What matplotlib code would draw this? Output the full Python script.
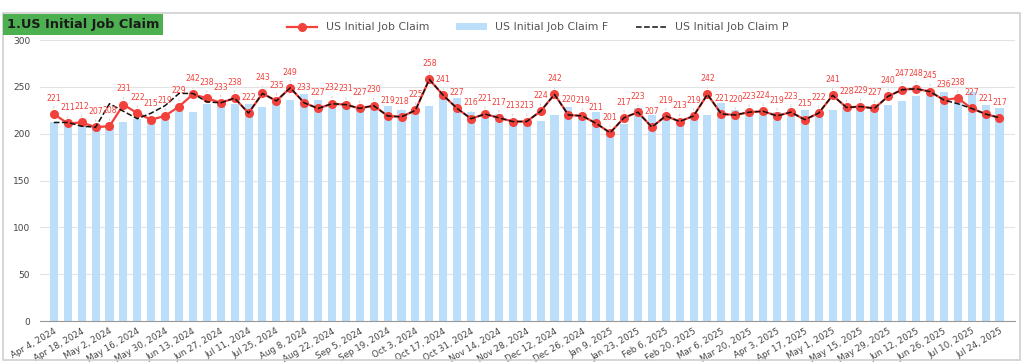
import matplotlib.pyplot as plt
import matplotlib.patches as patches
import numpy as np
import pandas as pd

# weekly release dates (categories)
dates = pd.date_range("2024-04-04", periods=69, freq="7D")

# US Initial Job Claim (actual, thousands)
claims = [221, 211, 212, 207, 208, 231, 222, 215, 219, 229,
          242, 238, 233, 238, 222, 243, 235, 249, 233, 227,
          232, 231, 227, 230, 219, 218, 225, 258, 241, 227,
          216, 221, 217, 213, 213, 224, 242, 220, 219, 211,
          201, 217, 223, 207, 219, 213, 219, 242, 221, 220,
          223, 224, 219, 223, 215, 222, 241, 228, 229, 227,
          240, 247, 248, 245, 236, 238, 227, 221, 217]

# forecast (bars)
forecast = [213, 212, 208, 207, 205, 212, 216, 213, 220, 224,
            223, 232, 232, 232, 232, 229, 234, 236, 242, 236,
            234, 234, 229, 231, 230, 225, 223, 230, 243, 238,
            223, 222, 221, 216, 211, 214, 220, 229, 220, 223,
            202, 210, 227, 220, 218, 213, 218, 220, 233, 225,
            225, 224, 223, 225, 225, 223, 225, 228, 228, 227,
            231, 235, 240, 245, 244, 238, 245, 231, 227]

# previous (dashed)
previous = [212, 212, 208, 207, 232, 224, 216, 222, 230, 243,
            243, 234, 233, 238, 222, 243, 235, 249, 233, 227,
            232, 231, 227, 230, 219, 218, 225, 258, 241, 227,
            216, 221, 217, 213, 213, 224, 242, 220, 219, 211,
            201, 217, 223, 207, 219, 213, 219, 242, 221, 220,
            223, 224, 219, 223, 215, 222, 241, 228, 229, 227,
            240, 247, 248, 245, 236, 232, 227, 221, 217]

tick_labels = [f"{d.strftime('%b')} {d.day}, {d.year}" for d in dates]

red = "#F2403A"
x = np.arange(len(dates))

fig = plt.figure(figsize=(10.24, 3.64), dpi=100)
ax = fig.add_axes([0.039, 0.118, 0.952, 0.772])

ax.bar(x, forecast, width=0.58, color="#BBDEFB", label="US Initial Job Claim F", zorder=2)
ax.plot(x, claims, "-o", color=red, lw=1.6, markersize=5.5, label="US Initial Job Claim", zorder=3)
ax.plot(x, previous, "--", color="#111111", lw=1.1, label="US Initial Job Claim P", zorder=4)

for xi, v in zip(x, claims):
    ax.annotate("", xy=(xi, v + 3), xytext=(xi, v + 11),
                arrowprops=dict(arrowstyle="-", color="#cccccc", lw=0.6), zorder=1)
    ax.text(xi, v + 12, str(v), color=red, fontsize=5.6, ha="center", va="bottom", zorder=5)

ax.set_xlim(-1, 69.1)
ax.set_ylim(0, 300)
ax.set_yticks(range(0, 301, 50))
ax.set_xticks(x[::2])
ax.set_xticklabels(tick_labels[::2], rotation=30, ha="right", rotation_mode="anchor",
                   fontsize=6.3, color="#444444")
ax.tick_params(axis="y", labelsize=6.5, labelcolor="#444444", length=0, pad=7)
ax.tick_params(axis="x", length=0, pad=4)
ax.grid(axis="y", color="#e3e3e3", lw=0.8, zorder=0)
for s in ["top", "right", "left"]:
    ax.spines[s].set_visible(False)
ax.spines["bottom"].set_color("#999999")

# title box
fig.text(0.007, 0.932, "1.US Initial Job Claim", fontsize=9.3, fontweight="bold", color="#1a1a1a",
         ha="left", va="center",
         bbox=dict(boxstyle="square,pad=0.3", facecolor="#4CAF50", edgecolor="none"))

h, l = ax.get_legend_handles_labels()
order = [l.index("US Initial Job Claim"), l.index("US Initial Job Claim F"), l.index("US Initial Job Claim P")]
fig.legend([h[i] for i in order], [l[i] for i in order], loc="center", bbox_to_anchor=(0.525, 0.925),
           ncol=3, frameon=False, fontsize=7.8, labelcolor="#555555", handlelength=2.8, columnspacing=2.5)

# outer frame
fig.add_artist(patches.Rectangle((0.003, 0.01), 0.993, 0.955, transform=fig.transFigure,
                                 fill=False, edgecolor="#d0d0d0", lw=1.2))

fig.savefig("out.png", dpi=100)
